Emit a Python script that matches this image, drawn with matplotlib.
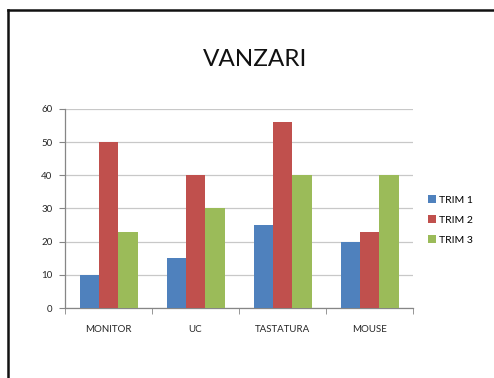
import numpy as np
import matplotlib
matplotlib.use("Agg")
import matplotlib.pyplot as plt
from matplotlib.lines import Line2D
from matplotlib.patches import Patch

categories = ["MONITOR", "UC", "TASTATURA", "MOUSE"]
series = ["TRIM 1", "TRIM 2", "TRIM 3"]
trim1 = [10, 15, 25, 20]
trim2 = [50, 40, 56, 23]
trim3 = [23, 30, 40, 40]
colors = ["#4F81BD", "#C0504D", "#9BBB59"]

plt.rcParams['font.family'] = ['Lato', 'DejaVu Sans']

fig = plt.figure(figsize=(4.94, 3.78), dpi=100)
ax = fig.add_axes([65 / 494, 1 - 308 / 378, 348 / 494, 199 / 378])

x = np.arange(len(categories))
w = 1 / 4.5
for i, (vals, c) in enumerate(zip([trim1, trim2, trim3], colors)):
    ax.bar(x + (i - 1) * w, vals, width=w, color=c, zorder=3)

ax.set_xlim(-0.5, len(categories) - 0.5)
ax.set_ylim(0, 60)
ax.set_yticks(range(0, 61, 10))
ax.set_xticks(x)
ax.set_xticklabels(categories, fontsize=7, color="#262626")
ax.tick_params(axis="x", length=0, pad=12)
ax.set_xticks(np.arange(-0.5, len(categories)), minor=True)
ax.tick_params(axis="x", which="minor", length=4, color="#868686")
ax.tick_params(axis="y", labelsize=7, labelcolor="#262626", length=4,
               color="#868686", pad=5)
ax.yaxis.grid(True, color="#c8c8c8", linewidth=0.9, zorder=0)
for s in ["top", "right"]:
    ax.spines[s].set_visible(False)
for s in ["left", "bottom"]:
    ax.spines[s].set_color("#868686")
    ax.spines[s].set_linewidth(0.9)

fig.text(255 / 494, 1 - 60 / 378, "VANZARI", fontsize=17.5, ha="center",
         va="center", color="#111111")

handles = [Patch(facecolor=c, edgecolor="none") for c in colors]
fig.legend(handles, series, loc="center left", bbox_to_anchor=(423 / 494, 1 - 220 / 378),
           frameon=False, fontsize=7.5, handlelength=0.75, handleheight=0.75,
           handletextpad=0.3, labelspacing=1.0, borderpad=0)

# frame around the slide
fig.add_artist(Line2D([8 / 494, 8 / 494], [0, 1 - 10 / 378], color="#111111",
                      linewidth=1.8, transform=fig.transFigure))
fig.add_artist(Line2D([8 / 494, 1], [1 - 10 / 378, 1 - 10 / 378], color="#111111",
                      linewidth=1.8, transform=fig.transFigure))

fig.savefig("out.png", dpi=100)
